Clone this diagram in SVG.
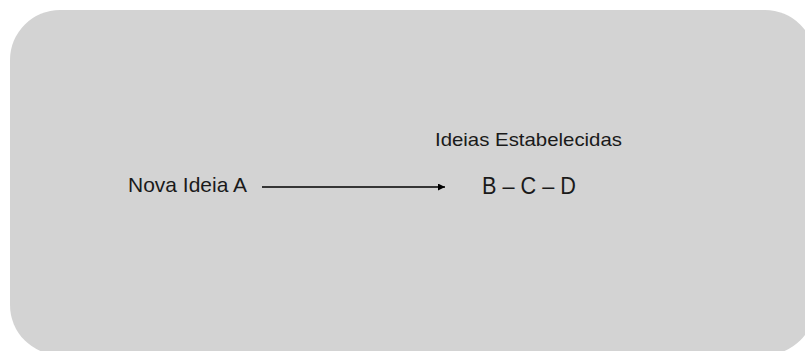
<svg xmlns="http://www.w3.org/2000/svg" width="805" height="351" viewBox="0 0 805 351">
<defs>
<style>
.t{font-family:"Liberation Sans","Open Sans",sans-serif;fill:#1a1a1a}
</style>
<marker id="ah" viewBox="0 0 10 10" refX="10" refY="5" markerWidth="11" markerHeight="7" markerUnits="userSpaceOnUse" orient="auto">
<path d="M0,0 L10,5 L0,10 z" fill="#000"/>
</marker>
</defs>
<rect width="805" height="351" fill="#ffffff"/>
<g id="background">
<rect x="10" y="10" width="805" height="345" rx="50" ry="50" fill="#d3d3d3"/>
</g>
<g id="node-a">
<text class="t" x="128" y="192" font-size="21" textLength="119" lengthAdjust="spacingAndGlyphs">Nova Ideia A</text>
</g>
<g id="node-established">
<text class="t" x="435" y="146" font-size="19" textLength="187" lengthAdjust="spacingAndGlyphs">Ideias Estabelecidas</text>
<text class="t" x="482" y="194" font-size="23" textLength="94" lengthAdjust="spacingAndGlyphs">B – C – D</text>
</g>
<g id="connectors">
<line x1="262" y1="187" x2="445" y2="187" stroke="#000" stroke-width="1.3" marker-end="url(#ah)"/>
</g>
</svg>
